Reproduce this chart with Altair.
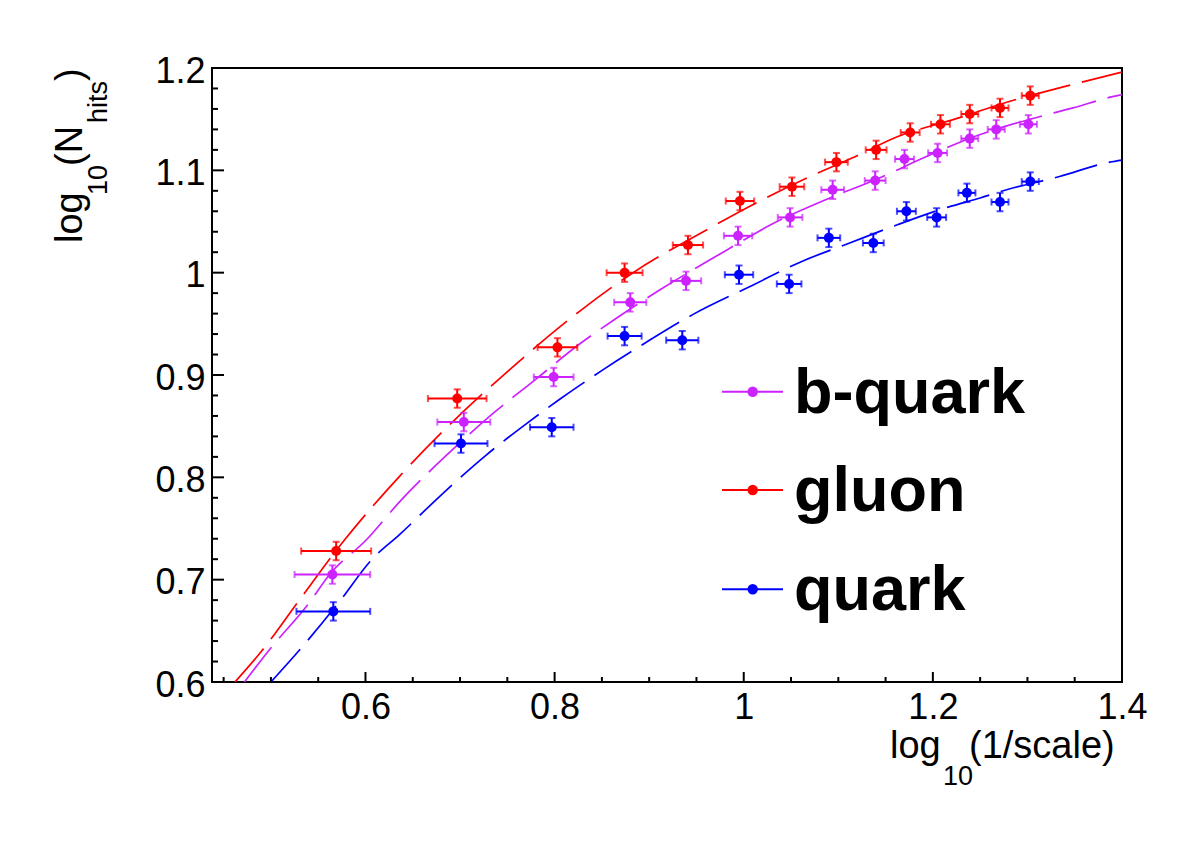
import altair as alt
import pandas as pd
import numpy as np

# ---- measured points: log10(1/scale) vs log10(N_hits) ----
series_names = ["b-quark", "gluon", "quark"]
series_colors = ["#CC22FF", "#FF0000", "#0000FF"]

x_bquark = [0.565, 0.704, 0.799, 0.880, 0.939, 0.994, 1.049, 1.094, 1.139, 1.170, 1.205, 1.239, 1.267, 1.301]
y_bquark = [0.705, 0.854, 0.898, 0.971, 0.992, 1.036, 1.054, 1.081, 1.090, 1.111, 1.117, 1.131, 1.140, 1.145]
xerr_bquark = [0.040, 0.028, 0.021, 0.017, 0.016, 0.015, 0.013, 0.012, 0.011, 0.010, 0.010, 0.009, 0.009, 0.009]

x_gluon = [0.569, 0.697, 0.803, 0.874, 0.941, 0.996, 1.051, 1.098, 1.140, 1.176, 1.208, 1.239, 1.271, 1.303]
y_gluon = [0.728, 0.877, 0.927, 1.000, 1.027, 1.070, 1.084, 1.108, 1.120, 1.137, 1.145, 1.155, 1.161, 1.173]
xerr_gluon = [0.037, 0.031, 0.021, 0.019, 0.016, 0.015, 0.013, 0.012, 0.011, 0.010, 0.010, 0.009, 0.009, 0.009]

x_quark = [0.566, 0.701, 0.797, 0.874, 0.935, 0.995, 1.048, 1.090, 1.137, 1.172, 1.204, 1.236, 1.271, 1.303]
y_quark = [0.669, 0.833, 0.849, 0.938, 0.934, 0.998, 0.989, 1.034, 1.029, 1.060, 1.054, 1.078, 1.069, 1.089]
xerr_quark = [0.039, 0.028, 0.023, 0.018, 0.017, 0.015, 0.013, 0.012, 0.011, 0.010, 0.010, 0.009, 0.009, 0.009]

yerr_all = [0.009] * 14

# ---- fitted curves (sampled along the drawn dashed lines) ----
fit_bquark_x = [0.472, 0.498, 0.541, 0.562, 0.601, 0.636, 0.692, 0.733, 0.779, 0.826, 0.863, 0.911,
                0.980, 1.029, 1.091, 1.140, 1.192, 1.250, 1.303, 1.348, 1.390, 1.400]
fit_bquark_y = [0.600, 0.631, 0.678, 0.705, 0.739, 0.776, 0.827, 0.861, 0.895, 0.930, 0.954, 0.983,
                1.021, 1.047, 1.073, 1.091, 1.113, 1.135, 1.150, 1.161, 1.172, 1.174]

fit_gluon_x = [0.462, 0.490, 0.530, 0.578, 0.636, 0.702, 0.740, 0.826, 0.883, 0.961, 1.017, 1.068,
               1.117, 1.163, 1.223, 1.287, 1.340, 1.400]
fit_gluon_y = [0.600, 0.630, 0.680, 0.739, 0.801, 0.863, 0.895, 0.962, 1.000, 1.042, 1.070, 1.093,
               1.113, 1.133, 1.150, 1.169, 1.182, 1.196]

fit_quark_x = [0.500, 0.530, 0.572, 0.607, 0.636, 0.678, 0.728, 0.771, 0.805, 0.851, 0.897, 0.946,
               1.010, 1.059, 1.112, 1.163, 1.216, 1.250, 1.278, 1.334, 1.387, 1.400]
fit_quark_y = [0.600, 0.631, 0.678, 0.720, 0.744, 0.781, 0.822, 0.853, 0.876, 0.905, 0.932, 0.959,
               0.988, 1.010, 1.029, 1.047, 1.064, 1.073, 1.081, 1.094, 1.108, 1.110]

x_tick_labels = [0.6, 0.8, 1.0, 1.2, 1.4]
y_tick_labels = [0.6, 0.7, 0.8, 0.9, 1.0, 1.1, 1.2]

# ---- tables ----
pts = []
for name, xs, ys, xe in [("b-quark", x_bquark, y_bquark, xerr_bquark),
                         ("gluon", x_gluon, y_gluon, xerr_gluon),
                         ("quark", x_quark, y_quark, xerr_quark)]:
    for xv, yv, ex, ey in zip(xs, ys, xe, yerr_all):
        pts.append({"series": name, "x": xv, "y": yv,
                    "xlo": xv - ex, "xhi": xv + ex, "ylo": yv - ey, "yhi": yv + ey})
pts = pd.DataFrame(pts)

fits = []
for name, xs, ys in [("b-quark", fit_bquark_x, fit_bquark_y),
                     ("gluon", fit_gluon_x, fit_gluon_y),
                     ("quark", fit_quark_x, fit_quark_y)]:
    for i, (xv, yv) in enumerate(zip(xs, ys)):
        fits.append({"series": name, "x": xv, "y": yv, "i": i})
fits = pd.DataFrame(fits)

# ---- layout ----
W, H = 910, 614
LEFT, TOP = 212, 68
FONT = "Liberation Sans"

xscale = alt.Scale(domain=[0.4377, 1.4], nice=False, zero=False)
yscale = alt.Scale(domain=[0.6, 1.2], nice=False, zero=False)
cscale = alt.Scale(domain=series_names, range=series_colors)
color = alt.Color("series:N", scale=cscale, legend=None)

label_expr = "datum.value == 1 ? '1' : format(datum.value, '.1f')"
xaxis = alt.Axis(values=x_tick_labels, labelExpr=label_expr, ticks=False, domain=False, grid=False,
                 title=None, labelFont=FONT, labelFontSize=36, labelPadding=8, labelColor="black",
                 labelFlush=False, labelOverlap=False)
yaxis = alt.Axis(values=y_tick_labels, labelExpr=label_expr, ticks=False, domain=False, grid=False,
                 title=None, labelFont=FONT, labelFontSize=36, labelPadding=7, labelColor="black",
                 labelOffset=3, labelFlush=False, labelOverlap=False)

X = lambda f: alt.X(f"{f}:Q", scale=xscale, axis=xaxis)
Y = lambda f: alt.Y(f"{f}:Q", scale=yscale, axis=yaxis)

base = alt.Chart(pts)

curves = alt.Chart(fits).mark_line(strokeDash=[44, 12], strokeWidth=1.7, clip=True, interpolate="monotone").encode(
    x=X("x"), y=Y("y"), color=color, detail="series:N", order="i:Q")

xbars = base.mark_rule(strokeWidth=2).encode(x=X("xlo"), x2="xhi:Q", y=Y("y"), color=color)
ybars = base.mark_rule(strokeWidth=2).encode(x=X("x"), y=Y("ylo"), y2="yhi:Q", color=color)
xcap_lo = base.mark_tick(orient="vertical", size=7, thickness=2).encode(x=X("xlo"), y=Y("y"), color=color)
xcap_hi = base.mark_tick(orient="vertical", size=7, thickness=2).encode(x=X("xhi"), y=Y("y"), color=color)
ycap_lo = base.mark_tick(orient="horizontal", size=7, thickness=2).encode(x=X("x"), y=Y("ylo"), color=color)
ycap_hi = base.mark_tick(orient="horizontal", size=7, thickness=2).encode(x=X("x"), y=Y("yhi"), color=color)
dots = base.mark_circle(size=100, opacity=1).encode(x=X("x"), y=Y("y"), color=color)

# ---- inward axis ticks ----
xt = np.round(np.arange(0.45, 1.401, 0.05), 3)
xt_df = pd.DataFrame({"v": xt, "major": [any(abs(v - m) < 1e-6 for m in x_tick_labels) for v in xt]})
yt = np.round(np.arange(0.6, 1.2001, 0.02), 3)
yt_df = pd.DataFrame({"v": yt, "major": [any(abs(v - m) < 1e-6 for m in y_tick_labels) for v in yt]})

xticks_major = alt.Chart(xt_df).transform_filter("datum.major").mark_rule(color="black", strokeWidth=2).encode(
    x=X("v"), y=alt.value(H), y2=alt.value(H - 10))
xticks_minor = alt.Chart(xt_df).transform_filter("!datum.major").mark_rule(color="black", strokeWidth=2).encode(
    x=X("v"), y=alt.value(H), y2=alt.value(H - 5))
yticks_major = alt.Chart(yt_df).transform_filter("datum.major").mark_rule(color="black", strokeWidth=2).encode(
    y=Y("v"), x=alt.value(0), x2=alt.value(12))
yticks_minor = alt.Chart(yt_df).transform_filter("!datum.major").mark_rule(color="black", strokeWidth=2).encode(
    y=Y("v"), x=alt.value(0), x2=alt.value(6))

# ---- axis titles with subscripts ----
xtitle = pd.DataFrame([
    {"t": "log", "px": 890, "py": 758, "fs": 38},
    {"t": "10", "px": 943, "py": 785, "fs": 27},
    {"t": "(1/scale)", "px": 969, "py": 758, "fs": 38},
])
ytitle = pd.DataFrame([
    {"t": "log", "px": 82, "py": 243, "fs": 38},
    {"t": "10", "px": 107, "py": 195, "fs": 27},
    {"t": "(N", "px": 82, "py": 166, "fs": 38},
    {"t": "hits", "px": 107, "py": 123, "fs": 27},
    {"t": ")", "px": 82, "py": 81, "fs": 38},
])
for df in (xtitle, ytitle):
    df["px"] = df["px"] - LEFT
    df["py"] = df["py"] - TOP


def text_layer(df, angle=0):
    return alt.Chart(df).mark_text(font=FONT, align="left", baseline="alphabetic", color="black",
                                   angle=angle).encode(
        x=alt.X("px:Q", scale=None, axis=None), y=alt.Y("py:Q", scale=None, axis=None),
        text="t:N", size=alt.Size("fs:Q", scale=None, legend=None))


xtitle_layer = text_layer(xtitle)
ytitle_layer = text_layer(ytitle, angle=270)

# ---- legend ----
leg = pd.DataFrame({"series": series_names, "ly": [391.7, 490.0, 589.3]})
leg["ly"] = leg["ly"] - TOP
leg["ty"] = leg["ly"] + 21
leg_line = alt.Chart(leg).mark_rule(strokeWidth=2).encode(
    x=alt.value(722 - LEFT), x2=alt.value(783 - LEFT), y=alt.Y("ly:Q", scale=None, axis=None), color=color)
leg_dot = alt.Chart(leg).mark_circle(size=110, opacity=1).encode(
    x=alt.value(752.7 - LEFT), y=alt.Y("ly:Q", scale=None, axis=None), color=color)
leg_text = alt.Chart(leg).mark_text(font=FONT, fontWeight="bold", fontSize=63, align="left",
                                    baseline="alphabetic", color="black").encode(
    x=alt.value(794 - LEFT), y=alt.Y("ty:Q", scale=None, axis=None), text="series:N")

chart = alt.layer(
    curves, xbars, ybars, xcap_lo, xcap_hi, ycap_lo, ycap_hi, dots,
    xticks_major, xticks_minor, yticks_major, yticks_minor,
    xtitle_layer, ytitle_layer, leg_line, leg_dot, leg_text,
).resolve_scale(x="shared", y="shared").properties(
    width=W, height=H,
    autosize=alt.AutoSizeParams(type="none"),
    padding={"left": LEFT, "top": TOP, "right": 1182 - LEFT - W, "bottom": 853 - TOP - H},
    background="white",
).configure_view(stroke="black", strokeWidth=2)

chart.save("out.html", embed_options={"renderer": "svg", "actions": False})
